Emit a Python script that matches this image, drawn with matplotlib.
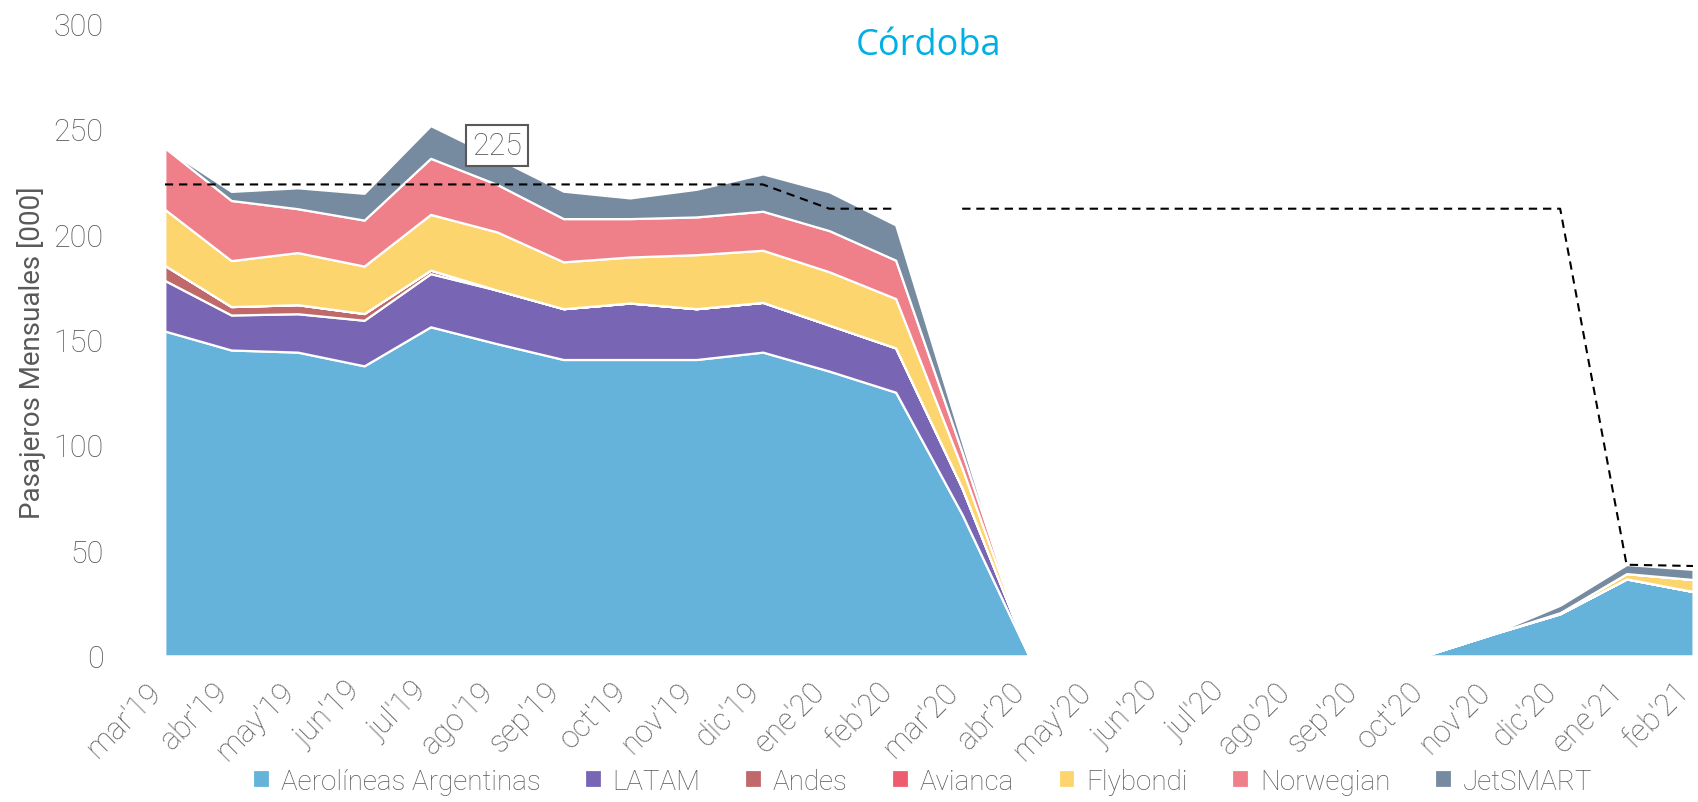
import matplotlib
matplotlib.use("Agg")
import matplotlib.pyplot as plt
import matplotlib.transforms as mtransforms
import numpy as np

months = ["mar'19", "abr'19", "may'19", "jun'19", "jul'19", "ago'19", "sep'19", "oct'19",
          "nov'19", "dic'19", "ene'20", "feb'20", "mar'20", "abr'20", "may'20", "jun'20",
          "jul'20", "ago'20", "sep'20", "oct'20", "nov'20", "dic'20", "ene'21", "feb'21"]

aerolineas = [154, 145, 144, 137.5, 156, 148, 140.5, 140.5, 140.5, 144, 135, 125,
              67, 0.3, 0, 0, 0, 0, 0, 0.5, 10.5, 20, 36.5, 30.5]
latam = [24, 16.6, 18.2, 21.6, 25.2, 25.4, 24.1, 26.8, 24.1, 23.6, 21.8, 21,
         12.5, 0.2, 0, 0, 0, 0, 0, 0, 0, 0, 0, 0]
andes = [7.1, 4.0, 4.3, 3.2, 1.7, 0, 0, 0, 0, 0, 0, 0,
         0, 0, 0, 0, 0, 0, 0, 0, 0, 0, 0, 0]
avianca = [0, 0, 0, 0, 0, 0, 0, 0, 0, 0, 0, 0,
           0, 0, 0, 0, 0, 0, 0, 0, 0, 0, 0, 0]
flybondi = [26.6, 21.8, 24.7, 22.5, 26.4, 27.6, 22.2, 21.8, 25.6, 24.7, 25.3, 23.4,
            9.5, 0.2, 0, 0, 0, 0, 0, 0, 0, 0.5, 2.5, 5.7]
norwegian = [29.2, 28.5, 20.8, 21.8, 26.6, 22.5, 20.5, 18.2, 17.9, 18.5, 19.5, 18.2,
             7.5, 0.1, 0, 0, 0, 0, 0, 0, 0, 0, 0, 0]
jetsmart = [0, 4.3, 9.9, 12.7, 15.5, 12.5, 13, 9.8, 13.1, 17.7, 18.4, 16.7,
            5, 0, 0, 0, 0, 0, 0, 0, 0.3, 3.5, 4.3, 4.8]

ref_prev = [223.5] * 10 + [212, 212]          # mar'19 - feb'20
ref_curr = [212] * 10 + [43.2, 42.6]          # mar'20 - feb'21

series_names = ["Aerolíneas Argentinas", "LATAM", "Andes", "Avianca",
                "Flybondi", "Norwegian", "JetSMART"]
colors = ["#65B2DA", "#7866B5", "#C0696B", "#EE5C6F", "#FDD56F", "#EF8089", "#768AA0"]

annot_text = "225"
annot_idx = 5
annot_y = 242

plt.rcParams['font.family'] = ['Roboto', 'DejaVu Sans']
gray = "#595959"

fig = plt.figure(figsize=(16.99, 8.03), dpi=100)
ax = fig.add_axes([0.097, 0.182, 0.8995, 0.788])

x = np.arange(len(months))
ax.stackplot(x, aerolineas, latam, andes, avianca, flybondi, norwegian, jetsmart,
             colors=colors, labels=series_names, edgecolor="white", linewidth=1.6)

ax.plot(x[:12], ref_prev, color="black", lw=1.5, dashes=(4, 2.8))
ax.plot(x[12:], ref_curr, color="black", lw=1.5, dashes=(4, 2.8))

ax.text(annot_idx, annot_y, annot_text, ha="center", va="center", fontsize=22,
        color=gray, fontweight="light",
        bbox=dict(boxstyle="square,pad=0.2", fc="white", ec=gray, lw=1.5))

ax.set_xlim(0, len(months) - 1)
ax.set_ylim(0, 300)
ax.set_yticks(np.arange(0, 301, 50))
ax.set_xticks(x)
ax.set_xticklabels(months, rotation=45, ha="right", va="center", rotation_mode="anchor")
ax.tick_params(axis="both", length=0, labelsize=22, labelcolor=gray)
ax.tick_params(axis="x", pad=22)
ax.tick_params(axis="y", pad=44)
offset = mtransforms.ScaledTranslation(-6 / 72, 0, fig.dpi_scale_trans)
for lbl in ax.get_xticklabels():
    lbl.set_transform(lbl.get_transform() + offset)
for lbl in ax.get_xticklabels() + ax.get_yticklabels():
    lbl.set_fontweight("light")
for s in ax.spines.values():
    s.set_visible(False)

ax.set_ylabel("Pasajeros Mensuales [000]", fontsize=20, color=gray)
ax.yaxis.set_label_coords(-0.078, 0.48)
ax.set_title("Córdoba", fontsize=26, color="#00B0E4",
             family=["Open Sans", "DejaVu Sans"], pad=-22, y=1.0)

handles, labels = ax.get_legend_handles_labels()
fig.legend(handles, labels, loc="center", bbox_to_anchor=(0.543, 0.026), ncol=7,
           frameon=False, handlelength=0.6, handleheight=0.6,
           handletextpad=0.4, columnspacing=1.6, labelcolor=gray,
           prop={"weight": "light", "size": 20})

fig.savefig("out.png", dpi=100)
